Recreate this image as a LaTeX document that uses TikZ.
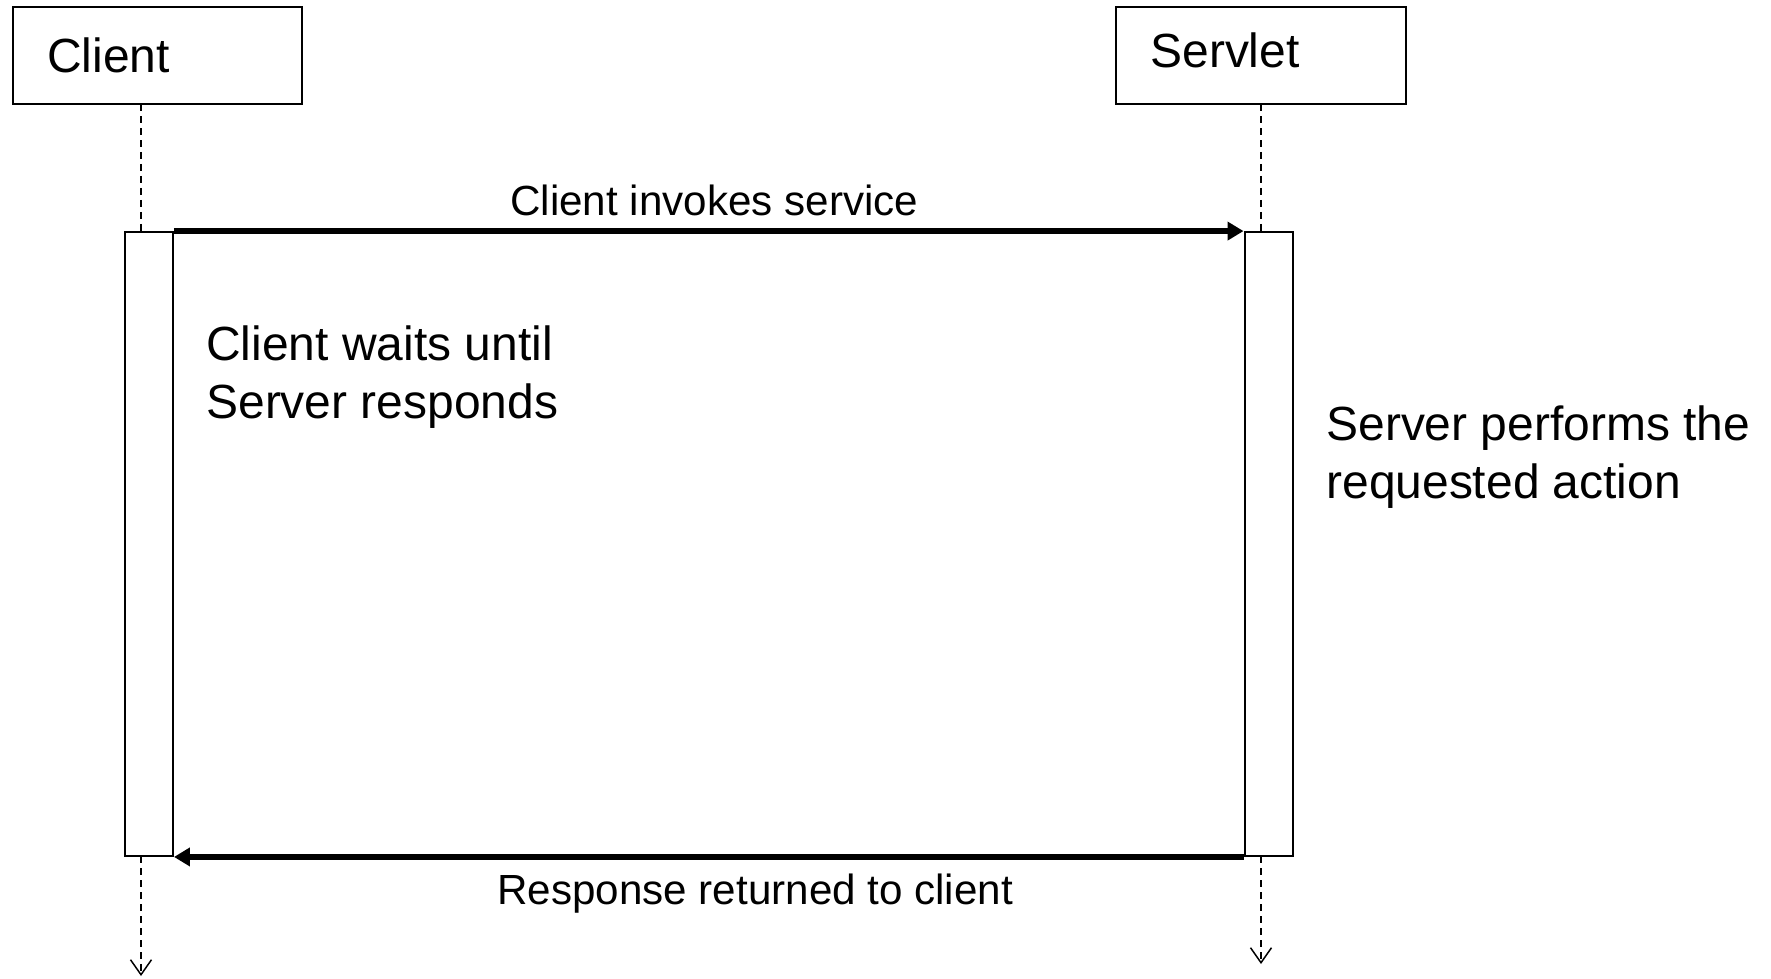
\documentclass[tikz,border=0pt]{standalone}
\usepackage{fontspec}
\setmainfont{Liberation Sans}
\usetikzlibrary{arrows.meta}
\begin{document}
\begin{tikzpicture}[x=0.02cm,y=-0.02cm,
  headbox/.style={draw, line width=0.04cm, inner sep=0, minimum width=5.79cm, minimum height=1.94cm},
  actbox/.style={draw, line width=0.04cm, inner sep=0, minimum width=0.96cm, minimum height=12.48cm},
  life/.style={line width=0.03cm, dash pattern=on 0.14cm off 0.1cm},
  lifeend/.style={life, -{Straight Barb[length=0.3cm,width=0.42cm,line width=0.03cm]}},
  msg/.style={line width=0.11cm, -{Triangle[length=0.32cm,width=0.36cm]}},
  big/.style={font=\fontsize{27.3pt}{33pt}\selectfont, inner sep=0},
  mid/.style={font=\fontsize{24pt}{29pt}\selectfont, inner sep=0}
]
\useasboundingbox (0,0) rectangle (1771,978);
% participants
\node[headbox] (client) at (157.5,55.5) {};
\node[headbox] (servlet) at (1261,55.5) {};
\node[big, anchor=base west] (clientlbl) at (47,72) {Client};
\node[big, anchor=base west] (servletlbl) at (1150,67) {Servlet};
% activation boxes
\node[actbox] (cact) at (149,544) {};
\node[actbox] (sact) at (1268.5,544) {};
% lifeline coordinates
\coordinate (cTop) at (141,104);
\coordinate (cA) at (141,232);
\coordinate (cB) at (141,856);
\coordinate (cEnd) at (141,976);
\coordinate (sTop) at (1261,104);
\coordinate (sA) at (1261,232);
\coordinate (sB) at (1261,856);
\coordinate (sEnd) at (1261,964);
\draw[life] (cTop) -- (cA);
\draw[lifeend] (cB) -- (cEnd);
\draw[life] (sTop) -- (sA);
\draw[lifeend] (sB) -- (sEnd);
% messages
\draw[msg] (cact.north east) -- (sact.north west);
\draw[msg] (sact.south west) -- (cact.south east);
\node[mid, anchor=base west] (m1) at (510,215) {Client invokes service};
\node[mid, anchor=base west] (m2) at (497,904) {Response returned to client};
% notes
\node[big, anchor=north west, align=left] (wait) at (206,325) {Client waits until\\Server responds};
\node[big, anchor=north west, align=left] (perf) at (1326,405) {Server performs the\\requested action};
\end{tikzpicture}
\end{document}
